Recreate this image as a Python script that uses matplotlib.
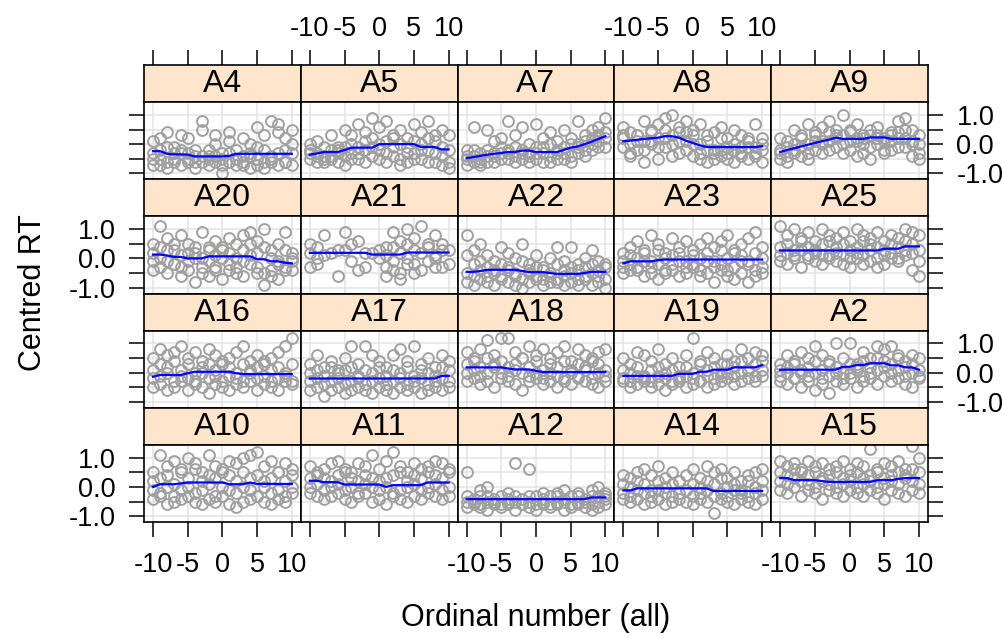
import numpy as np
import matplotlib
matplotlib.use("Agg")
import matplotlib.pyplot as plt

plt.rcParams['font.family'] = ['Liberation Sans', 'DejaVu Sans']
plt.rcParams['axes.unicode_minus'] = False

# panel layout, top row first (as drawn)
panel_rows = [
    ["A4", "A5", "A7", "A8", "A9"],
    ["A20", "A21", "A22", "A23", "A25"],
    ["A16", "A17", "A18", "A19", "A2"],
    ["A10", "A11", "A12", "A14", "A15"],
]
ordinal = list(range(-10, 11))
x_ticks = [-10, -5, 0, 5, 10]
y_ticks = [-1.0, -0.5, 0.0, 0.5, 1.0]
y_tick_labels = ["-1.0", "", "0.0", "", "1.0"]
N = None

# centred RT, four observations per ordinal position
rt_A4 = [[0.1, -0.2, 0.4, -0.5, -0.3, 0.2, -0.6, 0.8, -0.4, 0.3, -0.7, 0.1, -0.5, 0.2, -0.3, 0.6, -0.2, 0.8, 0.4, -0.6, 0.5],
         [-0.5, -0.7, -0.1, -0.3, 0.3, -0.6, -0.4, 0.5, -0.2, -0.6, -0.3, 0.4, -0.7, -0.4, 0.0, -0.5, 0.3, -0.4, 0.7, -0.2, -0.7],
         [-0.7, 0.2, -0.6, -0.1, -0.7, -0.5, -0.2, -0.6, -0.7, 0.0, -0.5, -0.6, -0.2, -0.6, -0.8, -0.1, -0.6, -0.5, -0.7, 0.2, -0.3],
         [-0.3, -0.5, -0.8, -0.6, -0.2, -0.3, -0.8, -0.4, -0.5, -0.4, -1.0, -0.3, -0.5, -0.7, -0.4, -0.7, -0.8, -0.6, -0.3, -0.6, 0.0]]
rt_A5 = [[-0.2, 0.1, -0.5, 0.3, -0.1, 0.5, 0.0, 0.7, 0.4, 0.9, 0.6, 0.8, 0.3, 0.5, 0.2, 0.7, 0.4, 0.8, 0.1, 0.5, 0.3],
         [-0.5, -0.3, -0.1, -0.4, -0.2, -0.1, 0.3, -0.3, 0.1, 0.2, -0.2, 0.1, -0.4, 0.0, -0.3, 0.1, -0.5, 0.2, -0.3, -0.1, -0.6],
         [-0.3, -0.6, -0.4, -0.2, -0.6, -0.4, -0.3, -0.5, -0.2, -0.4, 0.0, -0.6, 0.2, -0.5, -0.1, -0.3, -0.2, -0.6, 0.3, -0.4, -0.2],
         [0.0, -0.4, -0.6, -0.5, -0.3, -0.7, -0.5, -0.1, -0.6, -0.1, -0.5, -0.3, -0.1, -0.7, -0.6, -0.5, 0.0, -0.2, -0.6, -0.7, -0.8]]
rt_A7 = [[-0.2, 0.6, -0.3, 0.5, 0.1, -0.1, 0.8, 0.3, 0.6, 0.0, 0.7, 0.2, 0.4, 0.1, 0.5, 0.2, 0.8, 0.3, 0.5, 0.6, 0.9],
         [-0.5, -0.4, -0.6, -0.2, -0.4, 0.2, -0.3, -0.1, -0.2, -0.4, -0.1, -0.3, 0.0, -0.2, -0.3, 0.0, -0.1, 0.1, 0.2, 0.3, 0.4],
         [-0.7, -0.6, -0.5, -0.6, -0.3, -0.5, -0.5, -0.4, -0.5, -0.3, -0.5, -0.6, -0.4, -0.5, -0.1, -0.4, -0.3, -0.2, 0.0, 0.1, -0.1],
         [-0.4, -0.2, -0.7, -0.4, -0.6, -0.3, -0.2, -0.6, -0.3, -0.6, -0.3, -0.1, -0.6, -0.3, -0.5, -0.6, 0.0, -0.4, -0.2, -0.1, 0.2]]
rt_A8 = [[0.6, 0.4, 0.3, 0.8, 0.5, 0.7, 0.9, 1.0, 0.6, 0.8, 0.5, 0.7, 0.3, 0.4, 0.6, 0.2, 0.5, 0.3, 0.1, 0.7, 0.2],
         [0.2, 0.0, 0.3, 0.1, 0.4, 0.2, 0.5, 0.3, 0.4, 0.1, 0.3, 0.0, 0.1, -0.2, 0.2, -0.1, 0.0, -0.3, 0.2, -0.1, 0.0],
         [-0.1, -0.3, 0.1, -0.2, 0.0, -0.1, 0.2, -0.4, 0.1, -0.2, 0.0, -0.5, -0.2, -0.3, -0.4, -0.3, -0.2, -0.4, -0.1, -0.3, -0.2],
         [0.3, -0.4, -0.2, -0.6, 0.1, -0.5, -0.1, 0.0, -0.3, 0.4, -0.4, -0.3, -0.6, -0.5, -0.2, -0.5, -0.6, -0.1, -0.5, -0.4, -0.6]]
rt_A9 = [[0.2, -0.1, 0.5, 0.3, 0.7, 0.4, 0.6, 0.8, 0.5, 1.0, 0.4, 0.7, 0.3, 0.5, 0.6, 0.2, 0.4, 0.8, 0.9, 0.5, 0.3],
         [-0.3, 0.1, -0.2, 0.2, 0.0, 0.3, 0.1, 0.4, 0.2, 0.3, 0.1, 0.2, 0.0, 0.3, 0.2, 0.1, 0.3, 0.2, 0.5, 0.1, 0.0],
         [-0.5, -0.4, -0.3, -0.1, -0.3, -0.2, 0.0, 0.1, -0.1, 0.0, -0.2, 0.1, -0.3, -0.1, 0.0, -0.2, 0.1, -0.1, 0.2, 0.0, -0.3],
         [-0.2, -0.6, 0.0, -0.4, -0.5, 0.1, -0.3, -0.2, 0.3, -0.3, 0.5, -0.4, 0.2, -0.5, 0.3, -0.3, -0.2, 0.4, -0.1, -0.4, -0.5]]
rt_A20 = [[0.5, 1.1, 0.7, 0.3, 0.8, 0.5, 0.2, 0.9, 0.4, 0.6, 0.3, 0.7, 0.5, 0.8, 0.9, 0.6, 1.0, 0.3, 0.5, 0.9, 0.2],
          [0.2, 0.4, -0.1, 0.5, 0.1, 0.2, 0.4, 0.0, 0.3, 0.1, 0.4, 0.2, 0.0, 0.3, 0.5, 0.2, 0.4, 0.0, -0.2, 0.3, -0.1],
          [-0.1, 0.0, 0.3, -0.2, -0.3, -0.1, 0.0, -0.3, -0.1, -0.4, 0.0, -0.2, -0.3, -0.1, 0.1, -0.3, -0.5, -0.4, -0.1, -0.3, -0.4],
          [-0.4, -0.3, -0.5, -0.2, -0.6, -0.4, -0.8, -0.5, -0.6, -0.3, -0.7, -0.4, -0.5, -0.6, -0.2, -0.5, -0.9, -0.6, -0.7, -0.4, 0.0]]
rt_A21 = [[0.5, N, 0.8, N, 0.3, 0.9, N, 0.6, N, 0.2, N, 0.4, 0.9, 0.6, 1.0, 0.7, 1.1, 0.5, 0.8, 0.3, N],
          [0.2, 0.4, 0.1, 0.2, N, 0.3, 0.5, N, 0.2, N, 0.3, 0.1, 0.4, 0.2, 0.5, 0.3, 0.2, 0.4, 0.1, 0.5, 0.3],
          [-0.3, -0.2, N, N, -0.6, N, -0.1, N, -0.3, N, 0.0, -0.3, -0.1, -0.5, 0.0, -0.2, -0.4, -0.1, 0.0, -0.3, -0.2],
          [N, 0.0, N, N, N, N, N, -0.4, N, N, N, -0.6, -0.4, -0.7, -0.2, -0.5, N, N, -0.3, N, N]]
rt_A22 = [[0.8, 0.3, 0.5, 0.1, -0.1, 0.4, 0.2, 0.0, 0.5, -0.2, 0.1, -0.3, 0.0, 0.4, -0.1, 0.4, -0.2, 0.0, 0.3, -0.1, -0.2],
          [0.1, -0.2, -0.1, -0.3, -0.4, -0.2, -0.3, -0.5, -0.1, -0.4, -0.3, -0.4, -0.5, -0.2, -0.4, -0.3, -0.4, -0.3, -0.2, -0.4, -0.3],
          [-0.5, -0.6, -0.4, -0.6, -0.5, -0.7, -0.4, -0.6, -0.7, -0.5, -0.6, -0.7, -0.6, -0.8, -0.6, -0.5, -0.7, -0.6, -0.5, -0.6, -0.7],
          [-0.8, -0.9, -0.7, -0.8, -0.9, -0.6, -0.8, -0.9, -1.0, -0.8, -0.7, -0.9, -0.8, -0.7, -0.9, -0.8, -0.9, -0.7, -0.9, -0.8, -1.0]]
rt_A23 = [[0.2, 0.4, 0.6, 0.3, 0.8, 0.5, 0.2, 0.7, 0.4, 0.6, 0.3, 0.5, 0.7, 0.4, 0.6, 0.8, 0.3, 0.5, 0.7, 0.9, 0.4],
          [-0.1, 0.1, 0.0, 0.2, -0.1, 0.3, 0.0, 0.1, 0.2, -0.1, 0.1, 0.0, 0.2, -0.1, 0.3, 0.0, 0.2, 0.1, -0.1, 0.2, 0.0],
          [-0.3, -0.2, -0.4, -0.1, -0.3, -0.2, -0.4, -0.2, -0.1, -0.3, -0.2, -0.4, -0.1, -0.3, -0.2, -0.4, -0.3, -0.1, -0.2, -0.4, -0.3],
          [-0.5, -0.4, -0.3, -0.6, -0.5, -0.7, -0.5, -0.4, -0.6, -0.5, -0.3, -0.6, -0.5, -0.8, -0.4, -0.6, -0.7, -0.5, -0.8, -0.6, -0.5]]
rt_A25 = [[1.1, 0.8, 1.0, 0.7, 0.9, 0.6, 1.0, 0.8, 0.7, 0.9, 0.6, 1.0, 0.8, 0.7, 0.9, 0.6, 0.8, 0.7, 1.0, 0.9, 0.8],
          [0.4, 0.5, 0.3, 0.6, 0.4, 0.3, 0.5, 0.6, 0.4, 0.5, 0.3, 0.4, 0.6, 0.5, 0.4, 0.3, 0.5, 0.4, 0.6, 0.5, 0.3],
          [0.1, 0.2, 0.0, 0.3, 0.1, 0.2, 0.1, 0.0, 0.2, 0.1, 0.0, 0.2, 0.1, 0.3, 0.0, 0.1, 0.2, 0.0, 0.3, 0.2, -0.1],
          [-0.1, -0.2, 0.1, -0.3, 0.0, -0.1, -0.2, 0.1, -0.1, -0.2, -0.3, 0.0, -0.2, -0.1, -0.3, -0.2, 0.0, -0.1, 0.1, -0.4, -0.6]]
rt_A16 = [[0.5, 0.8, 0.6, 0.7, 0.9, 0.5, 0.7, 0.4, 0.8, 0.6, 0.3, 0.5, 0.7, 0.9, 0.4, 0.6, 0.3, 0.5, 0.7, 0.9, 1.2],
          [0.1, 0.3, 0.2, 0.4, 0.1, 0.3, 0.0, 0.2, 0.3, 0.1, 0.4, 0.2, 0.0, 0.3, 0.1, 0.2, 0.4, 0.1, 0.2, 0.0, 0.3],
          [-0.2, -0.1, 0.0, -0.3, -0.1, -0.2, -0.3, 0.0, -0.2, -0.1, -0.3, -0.1, -0.2, -0.3, 0.0, -0.2, -0.1, -0.3, -0.2, -0.1, -0.3],
          [-0.5, -0.4, -0.6, -0.5, -0.3, -0.6, -0.4, -0.5, -0.7, -0.4, -0.5, -0.6, -0.4, -0.5, -0.3, -0.6, -0.4, -0.5, -0.6, -0.3, -0.4]]
rt_A17 = [[0.3, 0.6, 0.2, 0.4, 0.1, 0.5, 0.9, 0.3, 0.9, 0.6, 0.4, 0.2, 0.6, 0.8, 0.4, 0.9, 0.3, 0.5, 0.2, 0.6, 0.4],
          [0.0, 0.1, -0.1, 0.2, 0.0, 0.1, 0.2, -0.1, 0.1, 0.0, 0.2, -0.1, 0.1, 0.0, 0.2, -0.1, 0.1, 0.0, -0.1, 0.2, 0.1],
          [-0.3, -0.2, -0.4, -0.3, -0.2, -0.4, -0.3, -0.2, -0.4, -0.3, -0.2, -0.4, -0.3, -0.2, -0.4, -0.3, -0.2, -0.4, -0.3, -0.2, -0.3],
          [-0.6, -0.5, -0.8, -0.6, -0.5, -0.7, -0.6, -0.5, -0.6, -0.7, -0.5, -0.6, -0.7, -0.5, -0.6, -0.5, -0.7, -0.6, -0.5, -0.6, -0.5]]
rt_A18 = [[0.7, 0.5, 0.8, 1.1, 0.6, 1.2, 1.2, 0.7, 0.5, 0.9, 0.6, 0.8, 0.5, 0.7, 0.9, 0.4, 0.8, 0.6, 0.5, 0.7, 0.8],
          [0.3, 0.4, 0.2, 0.5, 0.3, 0.4, 0.2, 0.3, 0.5, 0.2, 0.4, 0.1, 0.3, 0.2, 0.4, 0.1, 0.3, 0.2, 0.4, 0.3, 0.1],
          [0.0, 0.1, -0.1, 0.0, 0.2, 0.0, -0.1, 0.1, 0.0, -0.1, 0.0, -0.2, 0.0, -0.1, -0.2, 0.0, -0.1, 0.1, -0.2, 0.0, -0.1],
          [-0.3, -0.2, -0.4, -0.3, -0.5, -0.2, -0.3, -0.4, -0.6, -0.3, -0.2, -0.4, -0.3, -0.5, -0.3, -0.4, -0.2, -0.3, -0.4, -0.5, -0.3]]
rt_A19 = [[0.5, 0.3, 0.7, 0.6, 0.4, 0.8, 0.3, 0.5, 0.2, 0.6, 1.2, 0.4, 0.7, 0.5, 0.3, 0.6, 0.4, 0.8, 0.5, 0.7, 0.6],
          [0.1, 0.0, 0.2, -0.1, 0.1, 0.2, 0.0, 0.1, -0.1, 0.2, 0.0, 0.3, 0.1, 0.2, 0.0, 0.3, 0.2, 0.4, 0.1, 0.3, 0.4],
          [-0.2, -0.3, -0.1, -0.2, -0.3, -0.1, -0.2, -0.3, -0.2, -0.1, -0.2, -0.3, -0.1, -0.2, -0.1, 0.0, -0.1, 0.0, 0.1, -0.1, 0.1],
          [-0.3, -0.5, -0.4, -0.3, -0.5, -0.4, -0.6, -0.4, -0.3, -0.5, -0.4, -0.3, -0.5, -0.4, -0.3, -0.2, -0.4, -0.3, -0.2, -0.3, -0.1]]
rt_A2 = [[0.3, 0.6, 0.4, 0.7, 0.5, 0.9, 0.6, 0.4, 1.0, 0.5, 1.0, 0.3, 0.7, 0.5, 0.9, 0.8, 0.9, 0.6, 0.4, 0.6, 0.5],
         [0.1, 0.2, 0.3, 0.0, 0.2, 0.4, 0.1, 0.3, 0.2, 0.0, 0.3, 0.2, 0.4, 0.2, 0.5, 0.4, 0.3, 0.5, 0.2, 0.3, 0.1],
         [-0.1, 0.0, -0.2, 0.1, -0.1, 0.0, -0.2, -0.1, 0.0, -0.2, 0.0, 0.1, -0.1, 0.0, 0.1, 0.2, 0.0, 0.1, -0.1, 0.0, -0.1],
         [-0.3, -0.4, -0.2, -0.5, -0.3, -0.6, -0.4, -0.7, -0.3, -0.4, -0.2, -0.5, -0.3, -0.2, -0.4, -0.1, -0.3, -0.2, -0.4, -0.5, -0.2]]
rt_A10 = [[0.5, 1.1, 0.7, 0.9, 0.6, 1.0, 0.8, 0.5, 1.1, 0.7, 0.6, 0.9, 0.8, 1.0, 1.1, 1.2, 0.7, 0.9, 0.5, 0.8, 0.6],
          [0.2, 0.3, 0.4, 0.1, 0.5, 0.3, 0.6, 0.2, 0.4, 0.3, 0.5, 0.4, 0.2, 0.5, 0.3, 0.4, 0.2, 0.3, 0.5, 0.2, 0.4],
          [-0.1, -0.2, 0.0, -0.3, -0.1, 0.0, -0.2, -0.1, 0.1, -0.3, 0.0, -0.1, -0.2, 0.0, -0.1, -0.3, 0.0, -0.2, -0.1, -0.3, 0.0],
          [-0.4, -0.3, -0.6, -0.5, -0.4, -0.3, -0.5, -0.6, -0.4, -0.5, -0.3, -0.6, -0.7, -0.5, -0.4, -0.3, -0.5, -0.6, -0.4, -0.5, -0.2]]
rt_A11 = [[0.7, 0.5, 0.6, 0.8, 0.9, 0.6, 0.5, 0.8, 0.7, 1.1, 0.6, 0.9, 1.2, 0.7, 0.5, 0.8, 0.6, 0.7, 0.9, 0.8, 0.6],
          [0.3, 0.4, 0.3, 0.2, 0.4, 0.5, 0.3, 0.2, 0.4, 0.3, 0.2, 0.3, 0.4, 0.5, 0.2, 0.4, 0.3, 0.5, 0.4, 0.3, 0.5],
          [0.0, 0.1, -0.1, 0.0, 0.1, -0.1, 0.0, -0.2, 0.1, 0.0, -0.1, 0.0, -0.2, -0.1, 0.0, 0.1, -0.1, 0.0, 0.1, -0.1, 0.0],
          [-0.2, -0.3, -0.4, -0.3, -0.2, -0.4, -0.5, -0.3, -0.2, -0.5, -0.4, -0.6, -0.3, -0.4, -0.5, -0.3, -0.4, -0.2, -0.3, -0.4, -0.3]]
rt_A12 = [[0.5, N, -0.1, 0.0, N, N, -0.2, 0.8, N, 0.6, N, -0.2, N, -0.2, -0.1, N, -0.2, N, -0.1, 0.0, -0.2],
          [-0.3, -0.4, -0.3, -0.3, -0.5, -0.3, -0.4, -0.3, -0.4, -0.3, -0.3, -0.4, -0.3, -0.3, -0.4, -0.3, -0.3, -0.4, -0.3, -0.3, -0.3],
          [-0.5, -0.5, -0.6, -0.5, -0.4, -0.6, -0.5, -0.5, -0.6, -0.5, -0.6, -0.5, -0.6, -0.5, -0.5, -0.6, -0.5, -0.5, -0.6, -0.5, -0.4],
          [-0.7, -0.6, -0.7, -0.8, -0.6, -0.7, -0.6, -0.8, -0.6, -0.7, -0.8, -0.6, -0.7, -0.6, -0.8, -0.7, -0.6, -0.7, -0.8, -0.7, -0.6]]
rt_A14 = [[0.4, 0.3, 0.5, 0.6, 0.4, 0.7, 0.3, 0.5, 0.2, 0.4, 0.6, 0.3, 0.7, 0.5, 0.6, 0.3, 0.5, 0.2, 0.4, 0.5, 0.6],
          [0.1, 0.0, 0.2, 0.1, -0.1, 0.2, 0.0, 0.1, 0.2, -0.1, 0.1, 0.0, 0.2, 0.1, 0.3, 0.0, 0.1, -0.1, 0.2, 0.0, 0.2],
          [-0.2, -0.3, -0.1, -0.2, -0.3, -0.1, -0.2, -0.3, -0.2, -0.1, -0.3, -0.2, -0.1, -0.3, -0.2, -0.3, -0.1, -0.2, -0.3, -0.2, -0.1],
          [-0.4, -0.5, -0.4, -0.6, -0.5, -0.4, -0.6, -0.5, -0.4, -0.5, -0.6, -0.4, -0.5, -0.9, -0.4, -0.5, -0.6, -0.4, -0.5, -0.6, -0.4]]
rt_A15 = [[0.9, 0.7, 0.8, 0.6, 0.9, 0.7, 0.8, 0.6, 0.7, 0.9, 0.6, 0.8, 0.7, 1.3, 0.6, 0.8, 0.7, 0.9, 0.6, 1.4, 1.0],
          [0.5, 0.4, 0.6, 0.5, 0.4, 0.5, 0.3, 0.4, 0.5, 0.3, 0.4, 0.5, 0.3, 0.4, 0.5, 0.3, 0.4, 0.5, 0.4, 0.6, 0.5],
          [0.2, 0.1, 0.3, 0.2, 0.1, 0.0, 0.2, 0.1, 0.0, 0.1, 0.2, 0.0, 0.1, 0.2, 0.0, 0.1, 0.2, 0.1, 0.3, 0.2, 0.1],
          [-0.1, -0.2, 0.0, -0.3, -0.1, -0.2, -0.4, -0.1, -0.2, -0.3, -0.1, -0.2, -0.3, -0.1, -0.2, -0.4, -0.1, -0.2, -0.3, -0.1, -0.2]]

# smoothed trend (blue line) at each ordinal position
fit_A4 = [-0.24, -0.24, -0.33, -0.35, -0.35, -0.36, -0.42, -0.42, -0.42, -0.42, -0.42, -0.40, -0.33, -0.33, -0.33, -0.33, -0.33, -0.33, -0.33, -0.33, -0.33]
fit_A5 = [-0.36, -0.32, -0.27, -0.27, -0.27, -0.2, -0.12, -0.12, -0.12, -0.12, 0.0, 0.0, 0.0, 0.0, 0.0, 0.0, -0.1, -0.1, -0.1, -0.18, -0.18]
fit_A7 = [-0.48, -0.44, -0.4, -0.36, -0.33, -0.3, -0.27, -0.27, -0.22, -0.22, -0.27, -0.27, -0.27, -0.27, -0.2, -0.12, -0.08, 0.0, 0.08, 0.18, 0.27]
fit_A8 = [0.1, 0.12, 0.15, 0.18, 0.2, 0.22, 0.27, 0.27, 0.22, 0.12, 0.04, -0.04, -0.1, -0.1, -0.1, -0.1, -0.1, -0.1, -0.1, -0.1, -0.07]
fit_A9 = [-0.27, -0.2, -0.14, -0.08, -0.02, 0.04, 0.1, 0.15, 0.22, 0.18, 0.18, 0.18, 0.18, 0.23, 0.23, 0.23, 0.18, 0.18, 0.18, 0.18, 0.18]
fit_A20 = [0.13, 0.13, 0.1, 0.05, 0.05, 0.0, 0.0, 0.0, 0.07, 0.07, 0.07, 0.07, 0.07, 0.07, 0.07, -0.03, -0.03, -0.1, -0.1, -0.15, -0.17]
fit_A21 = [0.19, 0.19, 0.19, 0.19, 0.19, 0.19, 0.19, 0.19, 0.19, 0.13, 0.13, 0.13, 0.13, 0.13, 0.2, 0.2, 0.2, 0.2, 0.2, 0.2, 0.2]
fit_A22 = [-0.46, -0.46, -0.43, -0.39, -0.39, -0.39, -0.39, -0.39, -0.43, -0.47, -0.47, -0.47, -0.5, -0.53, -0.53, -0.53, -0.53, -0.5, -0.46, -0.46, -0.46]
fit_A23 = [-0.17, -0.1, -0.1, -0.1, -0.1, -0.06, -0.04, -0.04, -0.04, -0.04, -0.04, -0.04, -0.04, -0.04, -0.04, -0.04, -0.04, -0.04, -0.04, -0.04, -0.04]
fit_A25 = [0.27, 0.27, 0.27, 0.27, 0.27, 0.27, 0.27, 0.27, 0.27, 0.27, 0.27, 0.27, 0.27, 0.27, 0.27, 0.33, 0.33, 0.33, 0.41, 0.41, 0.41]
fit_A16 = [-0.14, -0.08, -0.08, -0.08, -0.08, -0.02, 0.03, 0.03, 0.03, 0.03, 0.03, 0.03, -0.02, -0.05, -0.05, -0.05, -0.05, -0.05, -0.05, -0.05, -0.05]
fit_A17 = [-0.2, -0.2, -0.2, -0.2, -0.2, -0.2, -0.2, -0.2, -0.2, -0.2, -0.2, -0.2, -0.2, -0.2, -0.2, -0.2, -0.2, -0.2, -0.2, -0.11, -0.11]
fit_A18 = [0.18, 0.18, 0.18, 0.18, 0.18, 0.18, 0.14, 0.11, 0.11, 0.11, 0.06, 0.02, 0.02, 0.02, 0.02, 0.02, 0.02, 0.02, 0.02, 0.02, 0.02]
fit_A19 = [-0.11, -0.11, -0.11, -0.11, -0.11, -0.11, -0.11, -0.11, -0.04, -0.04, -0.04, 0.03, 0.03, 0.1, 0.1, 0.1, 0.18, 0.18, 0.18, 0.18, 0.26]
fit_A2 = [0.1, 0.1, 0.1, 0.1, 0.1, 0.1, 0.1, 0.1, 0.1, 0.2, 0.2, 0.26, 0.26, 0.32, 0.32, 0.32, 0.25, 0.25, 0.18, 0.18, 0.1]
fit_A10 = [0.0, 0.09, 0.09, 0.09, 0.12, 0.15, 0.15, 0.15, 0.15, 0.15, 0.15, 0.09, 0.09, 0.09, 0.15, 0.1, 0.1, 0.1, 0.1, 0.1, 0.1]
fit_A11 = [0.21, 0.21, 0.16, 0.16, 0.16, 0.08, 0.08, 0.08, 0.08, 0.08, 0.08, 0.0, 0.06, 0.06, 0.06, 0.06, 0.06, 0.15, 0.15, 0.15, 0.15]
fit_A12 = [-0.42, -0.42, -0.42, -0.42, -0.42, -0.42, -0.42, -0.42, -0.42, -0.42, -0.42, -0.42, -0.42, -0.42, -0.42, -0.42, -0.42, -0.42, -0.36, -0.36, -0.36]
fit_A14 = [-0.12, -0.12, -0.05, -0.05, -0.05, -0.05, -0.05, -0.05, -0.05, -0.05, -0.05, -0.05, -0.05, -0.14, -0.14, -0.14, -0.14, -0.14, -0.14, -0.14, -0.14]
fit_A15 = [0.3, 0.3, 0.23, 0.23, 0.23, 0.23, 0.2, 0.17, 0.17, 0.17, 0.17, 0.17, 0.17, 0.17, 0.23, 0.23, 0.23, 0.27, 0.3, 0.3, 0.3]

rt = {name: globals()["rt_" + name] for row in panel_rows for name in row}
fit = {name: globals()["fit_" + name] for row in panel_rows for name in row}

W, H = 1003, 638
LEFT, TOP = 144, 65
COL_W, ROW_H, STRIP_H = 156.8, 114.25, 37
TICK_LEN, TICK_W = 10.5, 1.1
LABEL_SIZE = 19.5


def box(x0, y0, w, h):
    return [x0 / W, 1 - (y0 + h) / H, w / W, h / H]


def style_frame(ax):
    for s in ax.spines.values():
        s.set_linewidth(1.2)
        s.set_color("black")


fig = plt.figure(figsize=(W / 100, H / 100), dpi=100)

for r, row in enumerate(panel_rows):
    for c, name in enumerate(row):
        x0 = LEFT + c * COL_W
        y0 = TOP + r * ROW_H

        # strip
        sax = fig.add_axes(box(x0, y0, COL_W, STRIP_H))
        sax.set_facecolor("#FFE5CC")
        sax.set_xlim(-11.3, 11.3)
        sax.set_ylim(0, 1)
        sax.set_yticks([])
        sax.text(0.5, 0.48, name, transform=sax.transAxes, ha="center", va="center", fontsize=23)
        style_frame(sax)
        if r == 0:
            sax.set_xticks(x_ticks)
            sax.xaxis.tick_top()
            sax.tick_params(axis="x", direction="out", length=TICK_LEN, width=TICK_W,
                            labelsize=LABEL_SIZE, pad=6, labeltop=(c in (1, 3)))
        else:
            sax.set_xticks([])

        # panel
        ax = fig.add_axes(box(x0, y0 + STRIP_H, COL_W, ROW_H - STRIP_H))
        ax.set_xlim(-11.3, 11.3)
        ax.set_ylim(-1.2, 1.44)
        ax.set_xticks(x_ticks)
        ax.set_yticks(y_ticks)
        ax.set_yticklabels(y_tick_labels)
        ax.grid(True, color="#E3E3E3", linewidth=1.1)
        ax.set_axisbelow(True)
        style_frame(ax)

        vals = np.array(rt[name], dtype=float)
        for obs in vals:
            ax.plot(ordinal, obs, linestyle="none", marker="o", markersize=7.8,
                    markerfacecolor="none", markeredgecolor="#A0A0A0", markeredgewidth=1.4)
        ax.plot(ordinal, fit[name], color="blue", linewidth=1.6)

        ax.tick_params(axis="x", direction="out", length=TICK_LEN if r == 3 else 0,
                       width=TICK_W, labelsize=LABEL_SIZE, pad=11,
                       top=False, bottom=(r == 3), labelbottom=(r == 3 and c in (0, 2, 4)))
        ax.tick_params(axis="y", direction="out", length=TICK_LEN, width=TICK_W,
                       labelsize=LABEL_SIZE, pad=10,
                       left=(c == 0), right=(c == 4),
                       labelleft=(c == 0 and r in (1, 3)), labelright=(c == 4 and r in (0, 2)))

fig.text(536 / W, 1 - 618 / H, "Ordinal number (all)", ha="center", va="center", fontsize=22)
fig.text(33 / W, 1 - 293 / H, "Centred RT", ha="center", va="center", rotation=90, fontsize=22)

fig.savefig("out.png", dpi=100)
